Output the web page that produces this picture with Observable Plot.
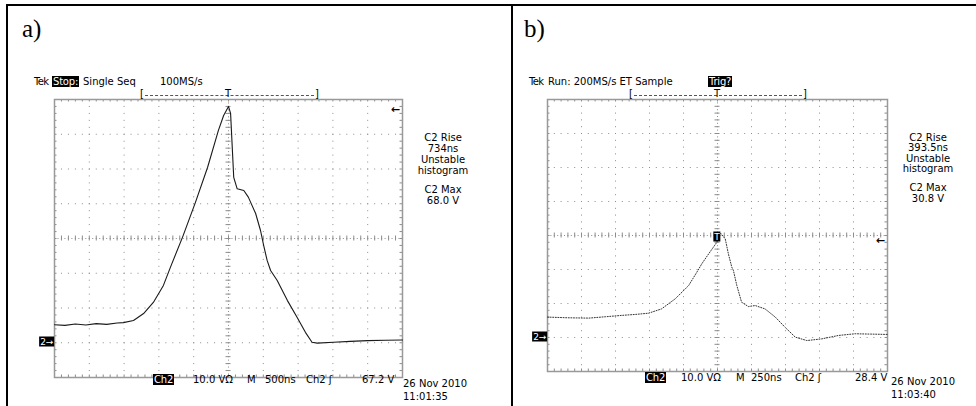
<!DOCTYPE html>
<html><head><meta charset="utf-8">
<script src="https://cdn.jsdelivr.net/npm/d3@7"></script>
<script src="https://cdn.jsdelivr.net/npm/@observablehq/plot@0.6"></script>
<style>
body{margin:0;background:#fff;}
#root{position:relative;width:976px;height:406px;overflow:hidden;font-family:"DejaVu Sans",sans-serif;}
.t{position:absolute;font-size:10px;white-space:pre;line-height:1;color:#000;}
.inv{background:#000;color:#fff;padding:0 1px;letter-spacing:-0.2px;}
.lbl{position:absolute;font-family:"Liberation Serif","Times New Roman",serif;font-size:25px;line-height:1;color:#000;}
.ln{position:absolute;background:#000;}
.br{position:absolute;border-top:1px dashed #555;height:0;}
</style></head>
<body><div id="root"></div>
<script>
// ---- data (time in ns relative to trigger, voltage in V) ----
const timeA = [-2500,-2350,-2200,-2050,-1900,-1750,-1600,-1510,-1365,-1220,-1080,-935,-835,-660,-475,-300,-145,-70,0,30,75,125,220,285,390,460,505,555,605,700,845,985,1105,1200,1275,1510,1750,2000,2250,2500];
const voltA = [5.2,5.0,5.4,5.1,5.5,5.3,5.7,5.8,6.4,8.4,11.6,16.5,21.7,30.4,40.4,50.5,61.1,65.4,68.0,66.0,47.6,44.3,43.8,41.9,37.2,32.3,28.0,23.7,20.8,17.9,12.2,7.35,3.0,0.15,-0.1,0.15,0.4,0.6,0.7,0.8];
const timeB = [-1250,-1100,-947,-825,-705,-600,-507,-412,-310,-212,-152,-115,-65,-5,20,57,80,105,117,142,177,227,277,350,425,497,572,657,767,890,1012,1125,1250];
const voltB = [6.0,5.8,5.7,6.1,6.5,6.8,7.15,8.4,11.4,15.3,19.2,21.7,24.6,28.0,30.8,29.0,24.6,20.7,19.7,15.3,10.4,9.1,9.4,8.4,6.0,3.0,0.1,-0.9,-0.4,0.6,1.1,1.0,0.9];
const voltDomain = [-10, 70];
const spanA = 5000, spanB = 2500;          // 500 ns/div and 250 ns/div, 10 divisions
const trigLevelA = 67.2, trigLevelB = 28.4;
const readoutA = ["C2 Rise","734ns","Unstable","histogram","C2 Max","68.0 V"];
const readoutB = ["C2 Rise","393.5ns","Unstable","histogram","C2 Max","30.8 V"];
const statusA = ["Ch2","10.0 V\u03A9","M","500ns","Ch2 \u0283","67.2 V"];
const statusB = ["Ch2","10.0 V\u03A9","M","250ns","Ch2 \u0283","28.4 V"];
const dateA = ["26 Nov 2010","11:01:35"];
const dateB = ["26 Nov 2010","11:03:40"];

const root = document.getElementById("root");
function el(cls, html, x, y, align, extra) {
  const d = document.createElement("div");
  d.className = cls; d.innerHTML = html;
  d.style.left = x + "px"; d.style.top = y + "px";
  const tx = align === "center" ? "-50%" : align === "right" ? "-100%" : "0";
  d.style.transform = `translate(${tx},-50%)`;
  if (extra) Object.assign(d.style, extra);
  root.appendChild(d); return d;
}
function line(x, y, w, h) {
  const d = document.createElement("div"); d.className = "ln";
  Object.assign(d.style, {left: x+"px", top: y+"px", width: w+"px", height: h+"px"});
  root.appendChild(d);
}

// page frame
line(6, 4, 970, 2); line(6, 4, 2, 402); line(511, 4, 2, 402);
el("lbl", "a)", 22, 28, "left");
el("lbl", "b)", 524, 28, "left");

function scope(o) {
  const {time, volt, span, box} = o;
  const x0 = -span/2, x1 = span/2;
  const m = 12;
  const majorX = d3.range(11).map(i => x0 + i*span/10);
  const minorX = d3.range(51).map(i => x0 + i*span/50);
  const majorY = d3.range(voltDomain[0], voltDomain[1] + 0.1, 10);
  const minorY = d3.range(0, 41).map(i => voltDomain[0] + i*2);
  const vpp = (voltDomain[1]-voltDomain[0]) / box.h;
  const tpp = span / box.w;
  const tk = 2.5;
  const g = "#8c8c8c";
  const pts = time.map((t, i) => ({t, v: volt[i]}));
  const svg = Plot.plot({
    width: box.w + 2*m, height: box.h + 2*m,
    marginLeft: m, marginRight: m, marginTop: m, marginBottom: m,
    x: {domain: [x0, x1], axis: null},
    y: {domain: voltDomain, axis: null},
    style: {background: "transparent", overflow: "visible"},
    marks: [
      Plot.ruleY(majorY.filter(v => v > voltDomain[0] && v < voltDomain[1] && v !== 30), {stroke: g, strokeDasharray: `1,${box.w/50 - 1}`}),
      Plot.ruleX(majorX.filter(t => t > x0 && t < x1 && t !== 0), {stroke: g, strokeDasharray: `1,${box.h/40 - 1}`}),
      Plot.ruleY([30], {stroke: g, strokeDasharray: `1,${box.w/100 - 1}`}),
      Plot.ruleX([0], {stroke: g, strokeDasharray: `1,${box.h/80 - 1}`}),
      Plot.ruleX(minorX, {x: d => d, y1: 30 - tk*vpp, y2: 30 + tk*vpp, stroke: g}),
      Plot.ruleY(minorY, {y: d => d, x1: -tk*tpp, x2: tk*tpp, stroke: g}),
      Plot.ruleX(minorX, {x: d => d, y1: voltDomain[1], y2: voltDomain[1] - tk*vpp, stroke: g}),
      Plot.ruleX(minorX, {x: d => d, y1: voltDomain[0], y2: voltDomain[0] + tk*vpp, stroke: g}),
      Plot.ruleY(minorY, {y: d => d, x1: x0, x2: x0 + tk*tpp, stroke: g}),
      Plot.ruleY(minorY, {y: d => d, x1: x1, x2: x1 - tk*tpp, stroke: g}),
      Plot.frame({stroke: "#999", strokeWidth: 1.5}),
      Plot.line(pts, {x: "t", y: "v", ...o.lineStyle})
    ]
  });
  svg.style.position = "absolute";
  svg.style.left = (box.x - m) + "px";
  svg.style.top = (box.y - m) + "px";
  root.appendChild(svg);
  const sx = v => svg.scale("x").apply(v) + box.x - m;
  const sy = v => svg.scale("y").apply(v) + box.y - m;
  return {sx, sy};
}

const boxA = {x: 54, y: 99, w: 348, h: 278};
const boxB = {x: 547, y: 99, w: 340, h: 272};
const A = scope({time: timeA, volt: voltA, span: spanA, box: boxA, lineStyle: {stroke: "#1a1a1a", strokeWidth: 1.1}});
const B = scope({time: timeB, volt: voltB, span: spanB, box: boxB, lineStyle: {stroke: "#333", strokeWidth: 1, strokeDasharray: "1,1.6"}});

const tekStyle = {letterSpacing: "-0.6px"};
// --- panel a annotations ---
el("t", "Tek", 34, 82, "left", tekStyle);
el("t", "<span class='inv'>Stop:</span>", 52, 82);
el("t", "Single Seq", 83, 82);
el("t", "100MS/s", 160, 82);
el("t", "[", 140, 94); el("t", "]", 315, 94);
el("br", "", 145, 95, "left", {width: "169px", transform: "none"});
el("t", "T", A.sx(0), 94, "center");
[138,149,160,171,190,201].forEach((y, i) => el("t", readoutA[i], 443, y, "center"));
el("t", "<span class='inv'>2\u2192</span>", 54, A.sy(0), "right", {fontSize: "9px"});
el("t", "<b>\u2190</b>", 400, A.sy(trigLevelA), "right", {fontSize: "11px"});
const sxA = [153,193,247,265,306,362];
statusA.forEach((s, i) => el("t", i === 0 ? `<span class='inv'>${s}</span>` : s, sxA[i], 380));
el("t", dateA[0], 403, 384); el("t", dateA[1], 403, 397);

// --- panel b annotations ---
el("t", "Tek", 529, 82, "left", tekStyle);
el("t", "Run: 200MS/s ET Sample", 548, 82);
el("t", "<span class='inv'>Trig?</span>", 708, 82);
el("t", "[", 629, 94); el("t", "]", 803, 94);
el("br", "", 634, 95, "left", {width: "168px", transform: "none"});
el("t", "T", B.sx(0), 94, "center");
[138,148,159,169,188,199].forEach((y, i) => el("t", readoutB[i], 928, y, "center"));
el("t", "<span class='inv'>2\u2192</span>", 547, B.sy(0), "right", {fontSize: "9px"});
el("t", "<b>\u2190</b>", 885, B.sy(trigLevelB), "right", {fontSize: "11px"});
el("t", "<span class='inv'>T</span>", B.sx(0), B.sy(30) + 2, "center", {fontSize: "9px"});
const sxB = [645,681,736,751,795,855];
statusB.forEach((s, i) => el("t", i === 0 ? `<span class='inv'>${s}</span>` : s, sxB[i], 378));
el("t", dateB[0], 891, 382); el("t", dateB[1], 891, 395);
</script>
</body></html>
